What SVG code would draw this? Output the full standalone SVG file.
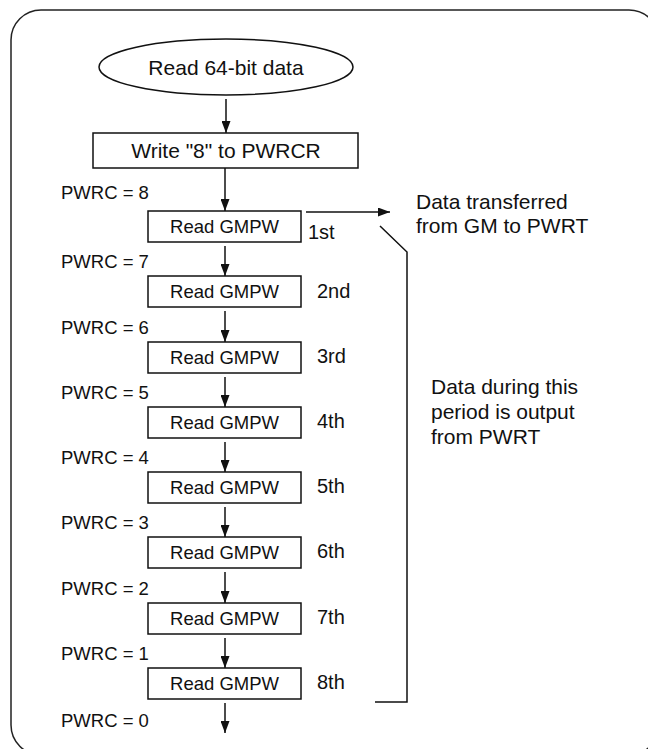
<svg xmlns="http://www.w3.org/2000/svg" width="648" height="749" viewBox="0 0 648 749">
  <style>
    .t{font-family:"Liberation Sans",Arial,Helvetica,sans-serif;fill:#111}
    .big{font-size:21px}
    .sm{font-size:18.5px}
    .ord{font-size:20px}
    .shape{fill:#fff;stroke:#111;stroke-width:1.5}
    .ln{fill:none;stroke:#111;stroke-width:1.5}
    .mid{text-anchor:middle}
  </style>
  <defs>
    <marker id="ah" markerUnits="userSpaceOnUse" markerWidth="12" markerHeight="9" refX="12" refY="4.5" orient="auto" viewBox="0 0 12 9">
      <path d="M0,0 L12,4.5 L0,9 z" fill="#111"/>
    </marker>
  </defs>

  <!-- outer frame -->
  <rect x="11" y="10" width="648" height="745" rx="30" ry="30" fill="none" stroke="#222" stroke-width="1.5"/>

  <!-- connectors -->
  <g id="connectors" class="ln" marker-end="url(#ah)">
    <line x1="226" y1="99" x2="226" y2="133"/>
    <line x1="225" y1="168" x2="225" y2="211"/>
    <line x1="225" y1="246" x2="225" y2="276"/>
    <line x1="225" y1="311" x2="225" y2="342"/>
    <line x1="225" y1="377" x2="225" y2="407"/>
    <line x1="225" y1="442" x2="225" y2="472"/>
    <line x1="225" y1="507" x2="225" y2="537"/>
    <line x1="225" y1="572" x2="225" y2="603"/>
    <line x1="225" y1="638" x2="225" y2="668"/>
    <line x1="225" y1="703" x2="225" y2="733"/>
    <line x1="306" y1="212" x2="390" y2="212"/>
  </g>
  <polyline id="bracket" class="ln" points="380,226 407,252 407,702 375,702"/>

  <!-- start -->
  <g id="start">
    <ellipse class="shape" cx="226" cy="67" rx="127" ry="28"/>
    <text class="t big mid" x="226" y="75">Read 64-bit data</text>
  </g>

  <g id="write">
    <rect class="shape" x="93" y="133" width="265" height="35"/>
    <text class="t big mid" x="226" y="158">Write "8" to PWRCR</text>
  </g>

  <!-- counter values -->
  <g id="counts" class="t sm">
    <text x="61" y="199">PWRC = 8</text>
    <text x="61" y="268">PWRC = 7</text>
    <text x="61" y="334">PWRC = 6</text>
    <text x="61" y="399">PWRC = 5</text>
    <text x="61" y="464">PWRC = 4</text>
    <text x="61" y="529">PWRC = 3</text>
    <text x="61" y="595">PWRC = 2</text>
    <text x="61" y="660">PWRC = 1</text>
    <text x="61" y="727">PWRC = 0</text>
  </g>

  <!-- read steps -->
  <g id="read1"><rect class="shape" x="148" y="211" width="153" height="31"/><text class="t sm mid" x="224.5" y="233">Read GMPW</text></g>
  <g id="read2"><rect class="shape" x="148" y="276" width="153" height="31"/><text class="t sm mid" x="224.5" y="298">Read GMPW</text></g>
  <g id="read3"><rect class="shape" x="148" y="342" width="153" height="31"/><text class="t sm mid" x="224.5" y="364">Read GMPW</text></g>
  <g id="read4"><rect class="shape" x="148" y="407" width="153" height="31"/><text class="t sm mid" x="224.5" y="429">Read GMPW</text></g>
  <g id="read5"><rect class="shape" x="148" y="472" width="153" height="31"/><text class="t sm mid" x="224.5" y="494">Read GMPW</text></g>
  <g id="read6"><rect class="shape" x="148" y="537" width="153" height="31"/><text class="t sm mid" x="224.5" y="559">Read GMPW</text></g>
  <g id="read7"><rect class="shape" x="148" y="603" width="153" height="31"/><text class="t sm mid" x="224.5" y="625">Read GMPW</text></g>
  <g id="read8"><rect class="shape" x="148" y="668" width="153" height="31"/><text class="t sm mid" x="224.5" y="690">Read GMPW</text></g>

  <!-- ordinals -->
  <g id="ordinals" class="t ord">
    <text x="308" y="239">1st</text>
    <text x="317" y="298">2nd</text>
    <text x="317" y="363">3rd</text>
    <text x="317" y="428">4th</text>
    <text x="317" y="493">5th</text>
    <text x="317" y="558">6th</text>
    <text x="317" y="624">7th</text>
    <text x="317" y="689">8th</text>
  </g>

  <!-- notes -->
  <g id="note-transfer" class="t big">
    <text x="416" y="209">Data transferred</text>
    <text x="416" y="233">from GM to PWRT</text>
  </g>
  <g id="note-output" class="t big">
    <text x="431" y="394">Data during this</text>
    <text x="431" y="419">period is output</text>
    <text x="431" y="444">from PWRT</text>
  </g>
</svg>
